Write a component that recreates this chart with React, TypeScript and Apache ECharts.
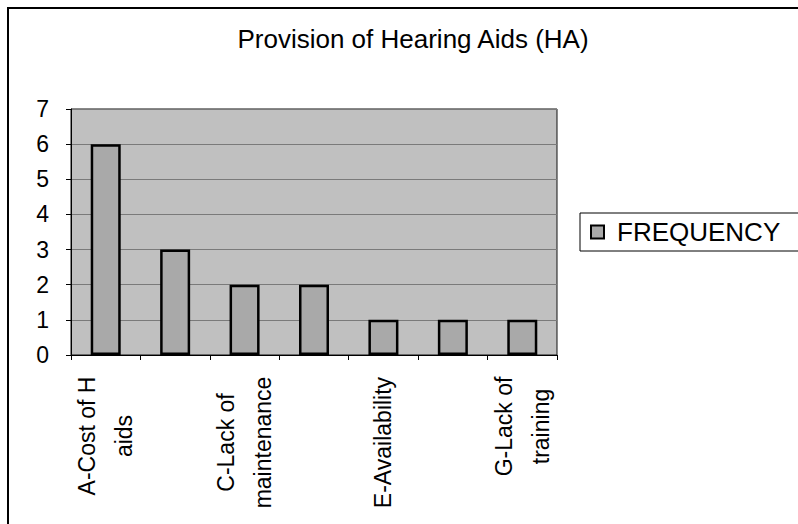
import React, { useEffect, useRef } from "react";
import * as echarts from "echarts";

const titleText = "Provision of Hearing Aids (HA)";
const seriesName = "FREQUENCY";
const categories = [
  "A-Cost of H\naids",
  "B",
  "C-Lack of\nmaintenance",
  "D",
  "E-Availability",
  "F",
  "G-Lack of\ntraining",
];
const frequency = [6, 3, 2, 2, 1, 1, 1];
const yMin = 0;
const yMax = 7;
const yInterval = 1;

const FONT = '"Liberation Sans", Arial, Helvetica, sans-serif';
const XFS = 23;

function measure(text: string, size: number): number {
  const c = document.createElement("canvas");
  const ctx = c.getContext("2d");
  if (!ctx) return text.length * size * 0.55;
  ctx.font = `${size}px ${FONT}`;
  return ctx.measureText(text).width;
}

export default function App() {
  const ref = useRef<HTMLDivElement>(null);
  useEffect(() => {
    if (!ref.current) return;
    const chart = echarts.init(ref.current, undefined, { renderer: "svg" });
    const rich: Record<string, any> = {};
    categories.forEach((c, i) => {
      const w = Math.max(...c.split("\n").map((l) => measure(l, XFS)));
      rich["r" + i] = {
        width: Math.ceil(w) + 1,
        align: "center",
        fontSize: XFS,
        lineHeight: 37,
        fontFamily: FONT,
        color: "#000",
      };
    });
    chart.setOption({
      animation: false,
      backgroundColor: "#ffffff",
      title: {
        text: titleText,
        left: 408,
        top: 21,
        textAlign: "center",
        textStyle: { fontFamily: FONT, fontSize: 26, fontWeight: "normal", color: "#000" },
      },
      graphic: [
        {
          type: "rect",
          shape: { x: 8, y: 8, width: 820, height: 560 },
          style: { fill: "none", stroke: "#000", lineWidth: 2 },
          silent: true,
        },
      ],
      legend: {
        data: [seriesName],
        left: 580,
        top: 213,
        orient: "vertical",
        borderColor: "#000",
        borderWidth: 1,
        padding: [6, 24, 6, 10],
        itemWidth: 13,
        itemHeight: 13,
        icon: "rect",
        textStyle: { fontFamily: FONT, fontSize: 26, color: "#000", padding: [0, 0, 0, 8] },
      },
      grid: {
        left: 71,
        right: 241,
        top: 109,
        bottom: 169,
        show: true,
        backgroundColor: "#c0c0c0",
        borderColor: "#111",
        borderWidth: 1,
      },
      xAxis: {
        type: "category",
        data: categories,
        axisLine: { lineStyle: { color: "#000", width: 1 } },
        axisTick: { show: true, interval: 0, length: 5, lineStyle: { color: "#000" } },
        axisLabel: {
          interval: 1,
          rotate: 90,
          margin: 21,
          formatter: (value: string, idx: number) =>
            value
              .split("\n")
              .map((l) => `{r${idx}|${l}}`)
              .join("\n"),
          rich,
        },
      },
      yAxis: {
        type: "value",
        min: yMin,
        max: yMax,
        interval: yInterval,
        axisLine: { show: true, lineStyle: { color: "#000", width: 1 } },
        axisTick: { show: true, length: 5, lineStyle: { color: "#000" } },
        axisLabel: { fontFamily: FONT, fontSize: 23, color: "#000", margin: 22 },
        splitLine: { show: true, lineStyle: { color: "#7a7a7a", width: 1 } },
      },
      series: [
        {
          name: seriesName,
          type: "bar",
          data: frequency,
          barWidth: 30,
          itemStyle: { color: "#a9a9a9", borderColor: "#000", borderWidth: 2.5 },
        },
      ],
    });
    return () => chart.dispose();
  }, []);
  return (
    <div
      ref={ref}
      style={{ position: "fixed", left: 0, top: 0, width: 798, height: 524 }}
    />
  );
}
